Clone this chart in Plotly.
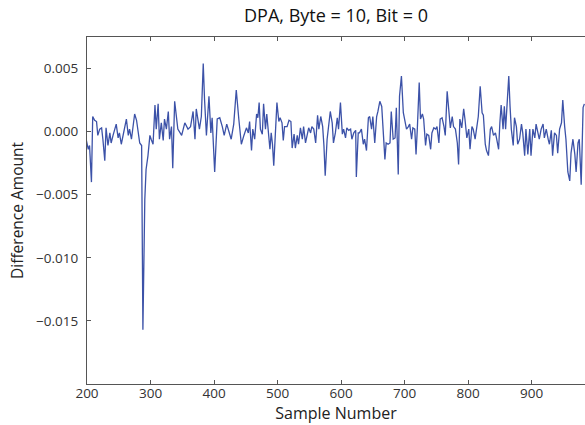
import plotly.graph_objects as go

title_text = "DPA, Byte = 10, Bit = 0"
x_label = "Sample Number"
y_label = "Difference Amount"

sample = [199, 202, 204, 207, 209, 212, 215, 217, 220, 223, 225, 228, 230, 233, 236, 238, 241, 244, 246, 249,
          251, 254, 257, 259, 262, 265, 267, 270, 272, 275, 278, 280, 283, 286, 288, 291, 293, 296, 299, 301,
          304, 307, 309, 312, 314, 317, 320, 322, 325, 328, 330, 333, 335, 338, 343, 349, 354, 359, 363, 367,
          370, 372, 377, 380, 383, 385, 388, 392, 395, 397, 401, 405, 409, 413, 416, 420, 423, 427, 431, 435,
          439, 443, 447, 451, 454, 456, 459, 461, 464, 467, 469, 471, 473, 476, 478, 481, 483, 485, 488, 490,
          492, 494, 497, 499, 502, 504, 507, 509, 511, 515, 518, 521, 523, 526, 528, 531, 533, 536, 539, 541,
          544, 546, 549, 552, 554, 557, 560, 563, 565, 568, 571, 573, 575, 578, 581, 583, 586, 588, 591, 594,
          596, 599, 602, 604, 607, 609, 612, 615, 617, 620, 623, 624, 627, 629, 632, 635, 637, 640, 643, 645,
          648, 650, 653, 656, 658, 661, 664, 666, 669, 671, 674, 677, 679, 682, 685, 687, 690, 692, 695, 698,
          700, 703, 706, 708, 711, 713, 716, 718, 720, 723, 725, 728, 730, 733, 735, 738, 741, 743, 746, 749,
          751, 754, 756, 759, 762, 764, 767, 770, 772, 775, 777, 780, 783, 785, 787, 790, 793, 795, 798, 801,
          803, 806, 808, 811, 814, 816, 819, 822, 824, 827, 829, 832, 835, 837, 840, 843, 845, 848, 850, 852,
          855, 857, 859, 861, 864, 866, 868, 871, 873, 876, 878, 881, 884, 886, 889, 891, 894, 897, 899, 902,
          905, 907, 910, 912, 915, 918, 920, 923, 926, 928, 931, 933, 936, 939, 941, 944, 947, 949, 952, 954,
          957, 960, 962, 965, 968, 970, 973, 975, 978, 981, 983]

diff_milli = [-0.7, -1.4, -1.1, -4.0, 1.2, 0.9, 0.8, -0.3, 0.2, 0.3, -0.6, -2.3, 0.3, -1.1, -0.1, -0.9, -0.3, 0.2, 0.6, -0.5,
              -0.1, -1.0, -0.3, 0.2, 1.0, -0.3, 0.2, -0.6, 0.3, 1.4, 0.9, 0.3, -0.9, -1.1, -15.7, -5.4, -3.0, -1.9, -0.3, -0.6,
              -1.0, 2.1, 0.2, 2.2, -0.6, 0.7, -0.7, 1.0, 0.2, 1.6, -0.6, 0.4, -2.9, 2.4, 0.2, -0.3, 0.7, 0.2, 0.4, 1.6,
              -0.6, 1.8, 0.2, 1.2, 5.4, 2.6, -0.3, 2.8, -0.1, 1.1, -3.2, 1.0, 1.1, 0.4, -0.3, 0.6, 0.1, -0.6, 0.6, 3.3,
              1.0, -1.0, -0.3, 0.3, -0.1, 0.8, -1.5, 0.2, -0.6, 1.4, 1.1, 2.3, 0.2, -0.2, 2.2, 0.2, 1.4, 0.2, -1.4, -0.1,
              -1.0, -2.7, 0.2, 2.3, 0.8, 1.1, 0.7, -0.7, 0.4, 0.4, 0.9, 0.8, -1.3, -0.2, -1.3, -0.3, -1.0, 0.3, -0.6, 0.4,
              -0.9, -0.3, 0.3, -0.1, 0.4, 0.2, -0.9, 1.3, 0.2, 1.2, 0.4, -1.1, -3.5, -0.6, 0.7, 1.6, 0.7, -0.9, -0.1, 1.1,
              0.2, 2.3, -0.2, 0.2, -0.5, 0.3, 0.1, 0.2, -0.6, -0.1, 0.1, -3.6, -0.1, -0.1, 0.2, -1.0, -0.6, -1.5, 1.1, 1.2,
              0.2, 1.2, -0.9, 1.2, 1.6, 2.4, 2.0, 0.2, -2.2, -0.9, -1.0, -0.9, 1.6, -0.6, -0.5, 1.9, -3.4, 2.8, 4.4, 1.5,
              1.0, 0.2, 0.4, 0.6, -0.6, 0.3, 0.2, -1.8, 0.2, 3.9, 1.0, 1.4, 1.0, -1.1, -0.2, -0.3, -1.4, -0.1, 0.3, 0.2,
              0.4, -0.9, 1.0, 1.1, 0.4, -0.3, 3.2, 1.5, 0.3, 1.2, 0.4, 0.2, -0.9, -2.6, 1.0, 0.3, 1.8, 1.0, -0.5, 0.2,
              -1.4, 0.4, 0.2, -0.6, 0.8, 1.2, 3.6, 1.5, 1.3, -1.0, -1.5, -1.9, 0.2, 0.4, -0.3, -0.1, -0.6, -1.4, 0.7, 2.1,
              0.2, 2.0, 0.2, 2.2, 4.4, 2.0, 0.2, -1.1, 1.1, 0.4, -1.0, -0.6, 0.6, -0.1, -1.9, 0.2, -1.8, 0.2, -1.9, 0.2,
              -0.5, 0.6, -0.3, -0.6, 0.2, 0.6, -0.5, 0.2, -0.6, -1.0, 0.1, -1.9, -0.1, -0.3, -1.7, 0.2, 0.7, 2.5, 0.4, -0.6,
              -3.2, -3.9, -1.7, -0.6, -1.8, -3.2, -0.9, -0.6, -4.2, 1.9, 2.2]

y_tick_vals = [0.005, 0.0, -0.005, -0.010, -0.015]
x_tick_vals = [200, 300, 400, 500, 600, 700, 800, 900]

diff = [v / 1000.0 for v in diff_milli]

font_family = "Open Sans, Noto Sans, DejaVu Sans, sans-serif"

fig = go.Figure()
fig.add_trace(go.Scatter(
    x=sample, y=diff, mode="lines",
    line=dict(color="#3c52a8", width=1.3),
    showlegend=False,
))

fig.update_layout(
    width=585, height=425,
    margin=dict(l=87, r=0, t=37, b=41),
    paper_bgcolor="white", plot_bgcolor="white",
    font=dict(family=font_family, color="#222"),
    title=dict(text=title_text, x=0.5, xref="paper", xanchor="center",
               y=0.962, yref="container", yanchor="middle",
               font=dict(size=18, color="#111")),
)

fig.update_xaxes(
    range=[200, 984], tickvals=x_tick_vals,
    showline=True, linecolor="#555", linewidth=1.2, mirror="ticks",
    ticks="inside", ticklen=4, tickcolor="#555", ticklabelstandoff=-3,
    showgrid=False, zeroline=False,
    tickfont=dict(size=13.5, color="#333"),
    title=dict(text=x_label, font=dict(size=16, color="#222"), standoff=4),
)
fig.update_yaxes(
    range=[-0.02, 0.0075], tickvals=y_tick_vals, tickformat=".3f",
    showline=True, linecolor="#555", linewidth=1.2,
    ticks="inside", ticklen=4, tickcolor="#555", ticklabelstandoff=5,
    showgrid=False, zeroline=False,
    tickfont=dict(size=13.5, color="#333"),
    title=dict(text=y_label, font=dict(size=15.5, color="#222"), standoff=8),
)

fig.write_html("out.html")
